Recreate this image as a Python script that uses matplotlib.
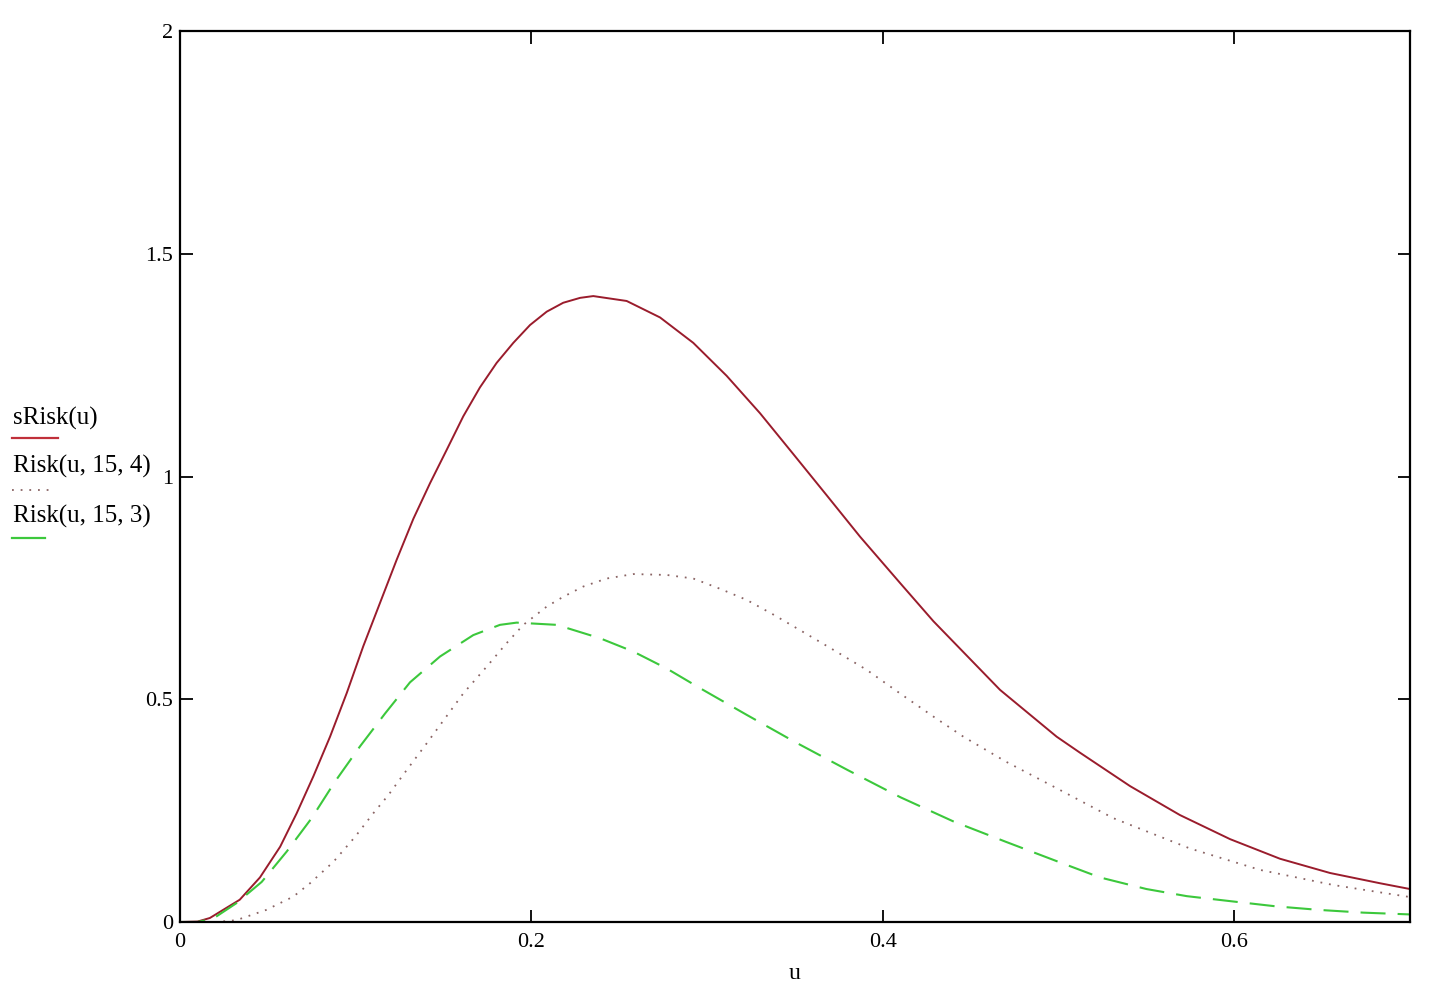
import matplotlib
matplotlib.use("Agg")
import matplotlib.pyplot as plt
from matplotlib.lines import Line2D

# ---- data ----
u_srisk = [0.0, 0.010, 0.017, 0.034, 0.0455, 0.057, 0.0664, 0.0759, 0.0854, 0.0949,
           0.1043, 0.1138, 0.1233, 0.1328, 0.1423, 0.1518, 0.1612, 0.1707, 0.1802,
           0.1897, 0.1992, 0.2087, 0.2181, 0.2277, 0.2352, 0.2542, 0.2732, 0.2921,
           0.3111, 0.3301, 0.3491, 0.3680, 0.3870, 0.41, 0.4288, 0.4667, 0.4989, 0.5122,
           0.5407, 0.5691, 0.5976, 0.6260, 0.6545, 0.6829, 0.70]
srisk = [0.0, 0.001, 0.009, 0.05, 0.10, 0.169, 0.244, 0.327, 0.416, 0.514,
         0.619, 0.716, 0.813, 0.905, 0.985, 1.060, 1.135, 1.200, 1.255,
         1.300, 1.340, 1.370, 1.390, 1.401, 1.405, 1.394, 1.357, 1.300,
         1.226, 1.142, 1.050, 0.958, 0.865, 0.760, 0.675, 0.521, 0.416, 0.380,
         0.305, 0.240, 0.186, 0.142, 0.110, 0.087, 0.074]

u_risk4 = [0.0, 0.020, 0.032, 0.049, 0.0645, 0.074, 0.0873, 0.0996, 0.110, 0.1186,
           0.129, 0.1404, 0.1612, 0.1745, 0.1859, 0.1954, 0.2087, 0.2181, 0.2295,
           0.2428, 0.2580, 0.2770, 0.2921, 0.3073, 0.3225, 0.3377, 0.3529, 0.3718,
           0.3908, 0.4098, 0.4288, 0.4458, 0.47, 0.50, 0.5312, 0.5748, 0.6146,
           0.6564, 0.70]
risk4 = [0.0, 0.0, 0.004, 0.027, 0.057, 0.087, 0.135, 0.191, 0.244, 0.285,
         0.341, 0.401, 0.513, 0.573, 0.626, 0.667, 0.708, 0.730, 0.753,
         0.771, 0.781, 0.779, 0.771, 0.748, 0.723, 0.690, 0.655, 0.611,
         0.566, 0.513, 0.461, 0.416, 0.360, 0.298, 0.233, 0.165, 0.117,
         0.083, 0.056]

u_risk3 = [0.0, 0.010, 0.019, 0.032, 0.0465, 0.0607, 0.0749, 0.0882, 0.1024, 0.1167,
           0.1309, 0.148, 0.1669, 0.1821, 0.1916, 0.2144, 0.2390, 0.2580, 0.2770,
           0.2959, 0.3225, 0.35, 0.38, 0.41, 0.44, 0.47, 0.50, 0.5236, 0.550,
           0.573, 0.5995, 0.624, 0.6488, 0.6735, 0.70]
risk3 = [0.0, 0.0, 0.008, 0.042, 0.090, 0.158, 0.233, 0.315, 0.394, 0.468,
         0.538, 0.596, 0.644, 0.667, 0.672, 0.667, 0.637, 0.607, 0.569,
         0.525, 0.465, 0.404, 0.341, 0.280, 0.226, 0.180, 0.135, 0.100, 0.074,
         0.058, 0.046, 0.035, 0.027, 0.021, 0.017]

x_ticks = [0, 0.2, 0.4, 0.6]
x_tick_labels = ["0", "0.2", "0.4", "0.6"]
y_ticks = [0, 0.5, 1, 1.5, 2]
y_tick_labels = ["0", "0.5", "1", "1.5", "2"]
legend_labels = ["sRisk(u)", "Risk(u, 15, 4)", "Risk(u, 15, 3)"]

RED = "#9a1c2c"
BROWN = "#8a6464"
GREEN = "#3cc83c"

plt.rcParams["font.family"] = ["Liberation Serif", "DejaVu Serif"]

W, H = 1444, 1000
fig = plt.figure(figsize=(W / 100, H / 100), dpi=100)
ax = fig.add_axes([180 / W, (H - 922) / H, (1410 - 180) / W, (922 - 31) / H])

ax.plot(u_srisk, srisk, color=RED, lw=1.4, solid_capstyle="butt", solid_joinstyle="round")
ax.plot(u_risk4, risk4, color=BROWN, lw=1.3, linestyle=(0, (1.0, 3.8)))
ax.plot(u_risk3, risk3, color=GREEN, lw=1.5, linestyle=(0, (12, 5.8)))

ax.set_xlim(0, 0.7)
ax.set_ylim(0, 2)
ax.set_xticks(x_ticks)
ax.set_xticklabels(x_tick_labels)
ax.set_yticks(y_ticks)
ax.set_yticklabels(y_tick_labels)
ax.tick_params(direction="in", length=9, width=1.3, top=True, right=True,
               labelsize=16, pad=5, colors="black")
ax.tick_params(axis="x", pad=8)
for s in ax.spines.values():
    s.set_linewidth(1.6)
    s.set_color("black")

ax.set_xlabel("u", fontsize=17, labelpad=8)

# legend drawn at the left, Mathcad style
leg_text_y = [418, 466, 516]
leg_line_y = [438, 490, 538]
leg_line_x2 = [58, 50, 45]
styles = [dict(color="#c0303a", lw=1.6),
          dict(color=BROWN, lw=1.3, linestyle=(0, (1.0, 3.8))),
          dict(color=GREEN, lw=1.6)]
for lab, ty, ly, x2, st in zip(legend_labels, leg_text_y, leg_line_y, leg_line_x2, styles):
    fig.text(13 / W, 1 - ty / H, lab, fontsize=18, ha="left", va="center")
    fig.add_artist(Line2D([12 / W, x2 / W], [1 - ly / H, 1 - ly / H],
                          transform=fig.transFigure, **st))

fig.savefig("out.png", dpi=100, facecolor="white")
